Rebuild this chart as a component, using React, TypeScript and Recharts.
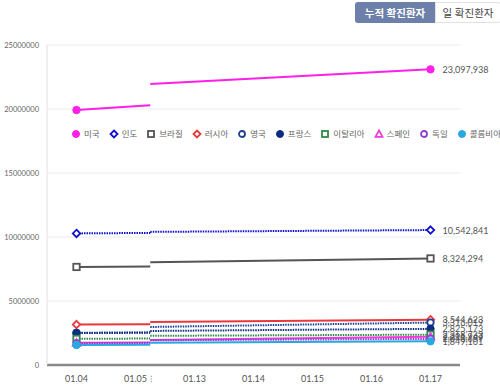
import React from 'react';
import { LineChart, Line, XAxis, YAxis, CartesianGrid } from 'recharts';

const xLabels = ['01.04', '01.05', '01.13', '01.14', '01.15', '01.16', '01.17'];
const countries = ['미국', '인도', '브라질', '러시아', '영국', '프랑스', '이탈리아', '스페인', '독일', '콜롬비아'];
const startValues = [19920000, 10280000, 7660000, 3160000, 2520000, 2490000, 2040000, 1730000, 1700000, 1560000];
const breakLeftValues = [20300000, 10320000, 7700000, 3190000, 2550000, 2520000, 2070000, 1760000, 1730000, 1590000];
const breakRightValues = [21950000, 10400000, 8030000, 3360000, 2970000, 2660000, 2280000, 1950000, 1930000, 1730000];
const endValues = [23097938, 10542841, 8324294, 3544623, 3316019, 2825173, 2368733, 2211967, 2040659, 1849101];
const yTicks = [0, 5000000, 10000000, 15000000, 20000000, 25000000];
const breakPos = 1.25;

const colors = ['#ff1fe8', '#1010d0', '#555555', '#e8383d', '#1c3f94', '#0c2d83', '#2e8b45', '#f03cd8', '#8e3fd0', '#27a8e0'];
const shapes = ['circleFilled', 'diamond', 'square', 'diamond', 'circle', 'circleFilled', 'square', 'triangle', 'circle', 'circleFilled'];
const dotted = [false, true, false, false, true, true, true, false, true, false];

const keys = countries.map((_, i) => 's' + i);
const row = (x: number, vals: (number | null)[]) => {
  const r: any = { x };
  keys.forEach((k, i) => (r[k] = vals[i]));
  return r;
};
const data = [
  row(0, startValues),
  row(breakPos, breakLeftValues),
  row(breakPos, countries.map(() => null)),
  row(breakPos, breakRightValues),
  row(xLabels.length - 1, endValues),
];

const FONT = "Lato, 'Noto Sans CJK KR', sans-serif";

function Marker({ shape, color, cx, cy, r }: any) {
  const sw = 1.8;
  if (shape === 'circleFilled') return <circle cx={cx} cy={cy} r={r} fill={color} stroke={color} strokeWidth={1} />;
  if (shape === 'circle') return <circle cx={cx} cy={cy} r={r - 0.5} fill="#fff" stroke={color} strokeWidth={sw} />;
  if (shape === 'square') return <rect x={cx - r + 0.5} y={cy - r + 0.5} width={2 * r - 1} height={2 * r - 1} fill="#fff" stroke={color} strokeWidth={sw} />;
  if (shape === 'diamond')
    return <polygon points={`${cx},${cy - r} ${cx + r},${cy} ${cx},${cy + r} ${cx - r},${cy}`} fill="#fff" stroke={color} strokeWidth={sw} />;
  return <polygon points={`${cx},${cy - r} ${cx + r},${cy + r * 0.8} ${cx - r},${cy + r * 0.8}`} fill="#fff" stroke={color} strokeWidth={sw} />;
}

const makeDot = (i: number) => (props: any) => {
  const { cx, cy, index, value } = props;
  const key = `d-${i}-${index}`;
  if (cx == null || cy == null || value == null || (index !== 0 && index !== data.length - 1)) return <g key={key} />;
  return (
    <g key={key}>
      <Marker shape={shapes[i]} color={colors[i]} cx={cx} cy={cy} r={3.7} />
      {index === data.length - 1 && (
        <text x={cx + 12} y={cy + 3.5} fontSize={9} fill="#555" fontFamily={FONT}>
          {Number(value).toLocaleString('en-US')}
        </text>
      )}
    </g>
  );
};

const XTick = (props: any) => {
  const { x, y, payload } = props;
  const label = xLabels[payload.value];
  return (
    <g>
      <text x={x} y={y + 9} textAnchor="middle" fontSize={9} fill="#555" fontFamily={FONT}>
        {label}
      </text>
      {payload.value === 1 && (
        <text x={x + 15} y={y + 9} textAnchor="middle" fontSize={9} fill="#888" fontFamily={FONT}>
          ⁝
        </text>
      )}
    </g>
  );
};

export default function App() {
  return (
    <div style={{ position: 'absolute', left: 0, top: 0, width: 500, height: 385, background: '#fff', fontFamily: FONT }}>
      <div
        style={{
          position: 'absolute', left: 355, top: 2, width: 80, height: 21, background: '#6c80a9', color: '#fff',
          fontSize: 10.5, fontWeight: 700, display: 'flex', alignItems: 'center', justifyContent: 'center', borderRadius: '3px 0 0 3px',
        }}
      >
        누적 확진환자
      </div>
      <div
        style={{
          position: 'absolute', left: 435, top: 2, width: 64, height: 19, border: '1px solid #e2e2e2', color: '#444',
          fontSize: 10.5, display: 'flex', alignItems: 'center', justifyContent: 'center', borderRadius: '0 3px 3px 0',
        }}
      >
        일 확진환자
      </div>
      <div style={{ position: 'absolute', left: 0, top: 0 }}>
        <LineChart width={500} height={385} data={data} margin={{ top: 45, right: 40, left: 7, bottom: 0 }}>
          <CartesianGrid vertical={false} stroke="#ebebeb" />
          <XAxis
            dataKey="x"
            type="number"
            domain={[-0.5, xLabels.length - 0.5]}
            ticks={xLabels.map((_, i) => i)}
            tick={<XTick />}
            tickLine={false}
            axisLine={{ stroke: '#8a8a8a', strokeWidth: 2.5 }}
            height={20}
            interval={0}
          />
          <YAxis
            domain={[0, 25000000]}
            ticks={yTicks}
            width={40}
            tickLine={false}
            axisLine={{ stroke: '#e0e0e0' }}
            tick={{ fontSize: 7.5, fill: '#666', fontFamily: FONT }}
            tickMargin={2}
            interval={0}
          />
          {keys.map((k, i) => (
            <Line
              key={k}
              dataKey={k}
              stroke={colors[i]}
              strokeWidth={2}
              strokeDasharray={dotted[i] ? '1.5 1' : undefined}
              dot={makeDot(i)}
              activeDot={false}
              isAnimationActive={false}
              type="linear"
            />
          ))}
        </LineChart>
      </div>
      <div
        style={{
          position: 'absolute', left: 71, top: 129, width: 430, display: 'flex', alignItems: 'center', fontSize: 8.5,
          color: '#666', whiteSpace: 'nowrap', lineHeight: '10px',
        }}
      >
        {countries.map((c, i) => (
          <div key={c} style={{ display: 'flex', alignItems: 'center', marginRight: 9, flexShrink: 0 }}>
            <svg width={10} height={10} style={{ marginRight: 3 }}>
              <Marker shape={shapes[i]} color={colors[i]} cx={5} cy={5} r={3.5} />
            </svg>
            <span>{c}</span>
          </div>
        ))}
      </div>
    </div>
  );
}
